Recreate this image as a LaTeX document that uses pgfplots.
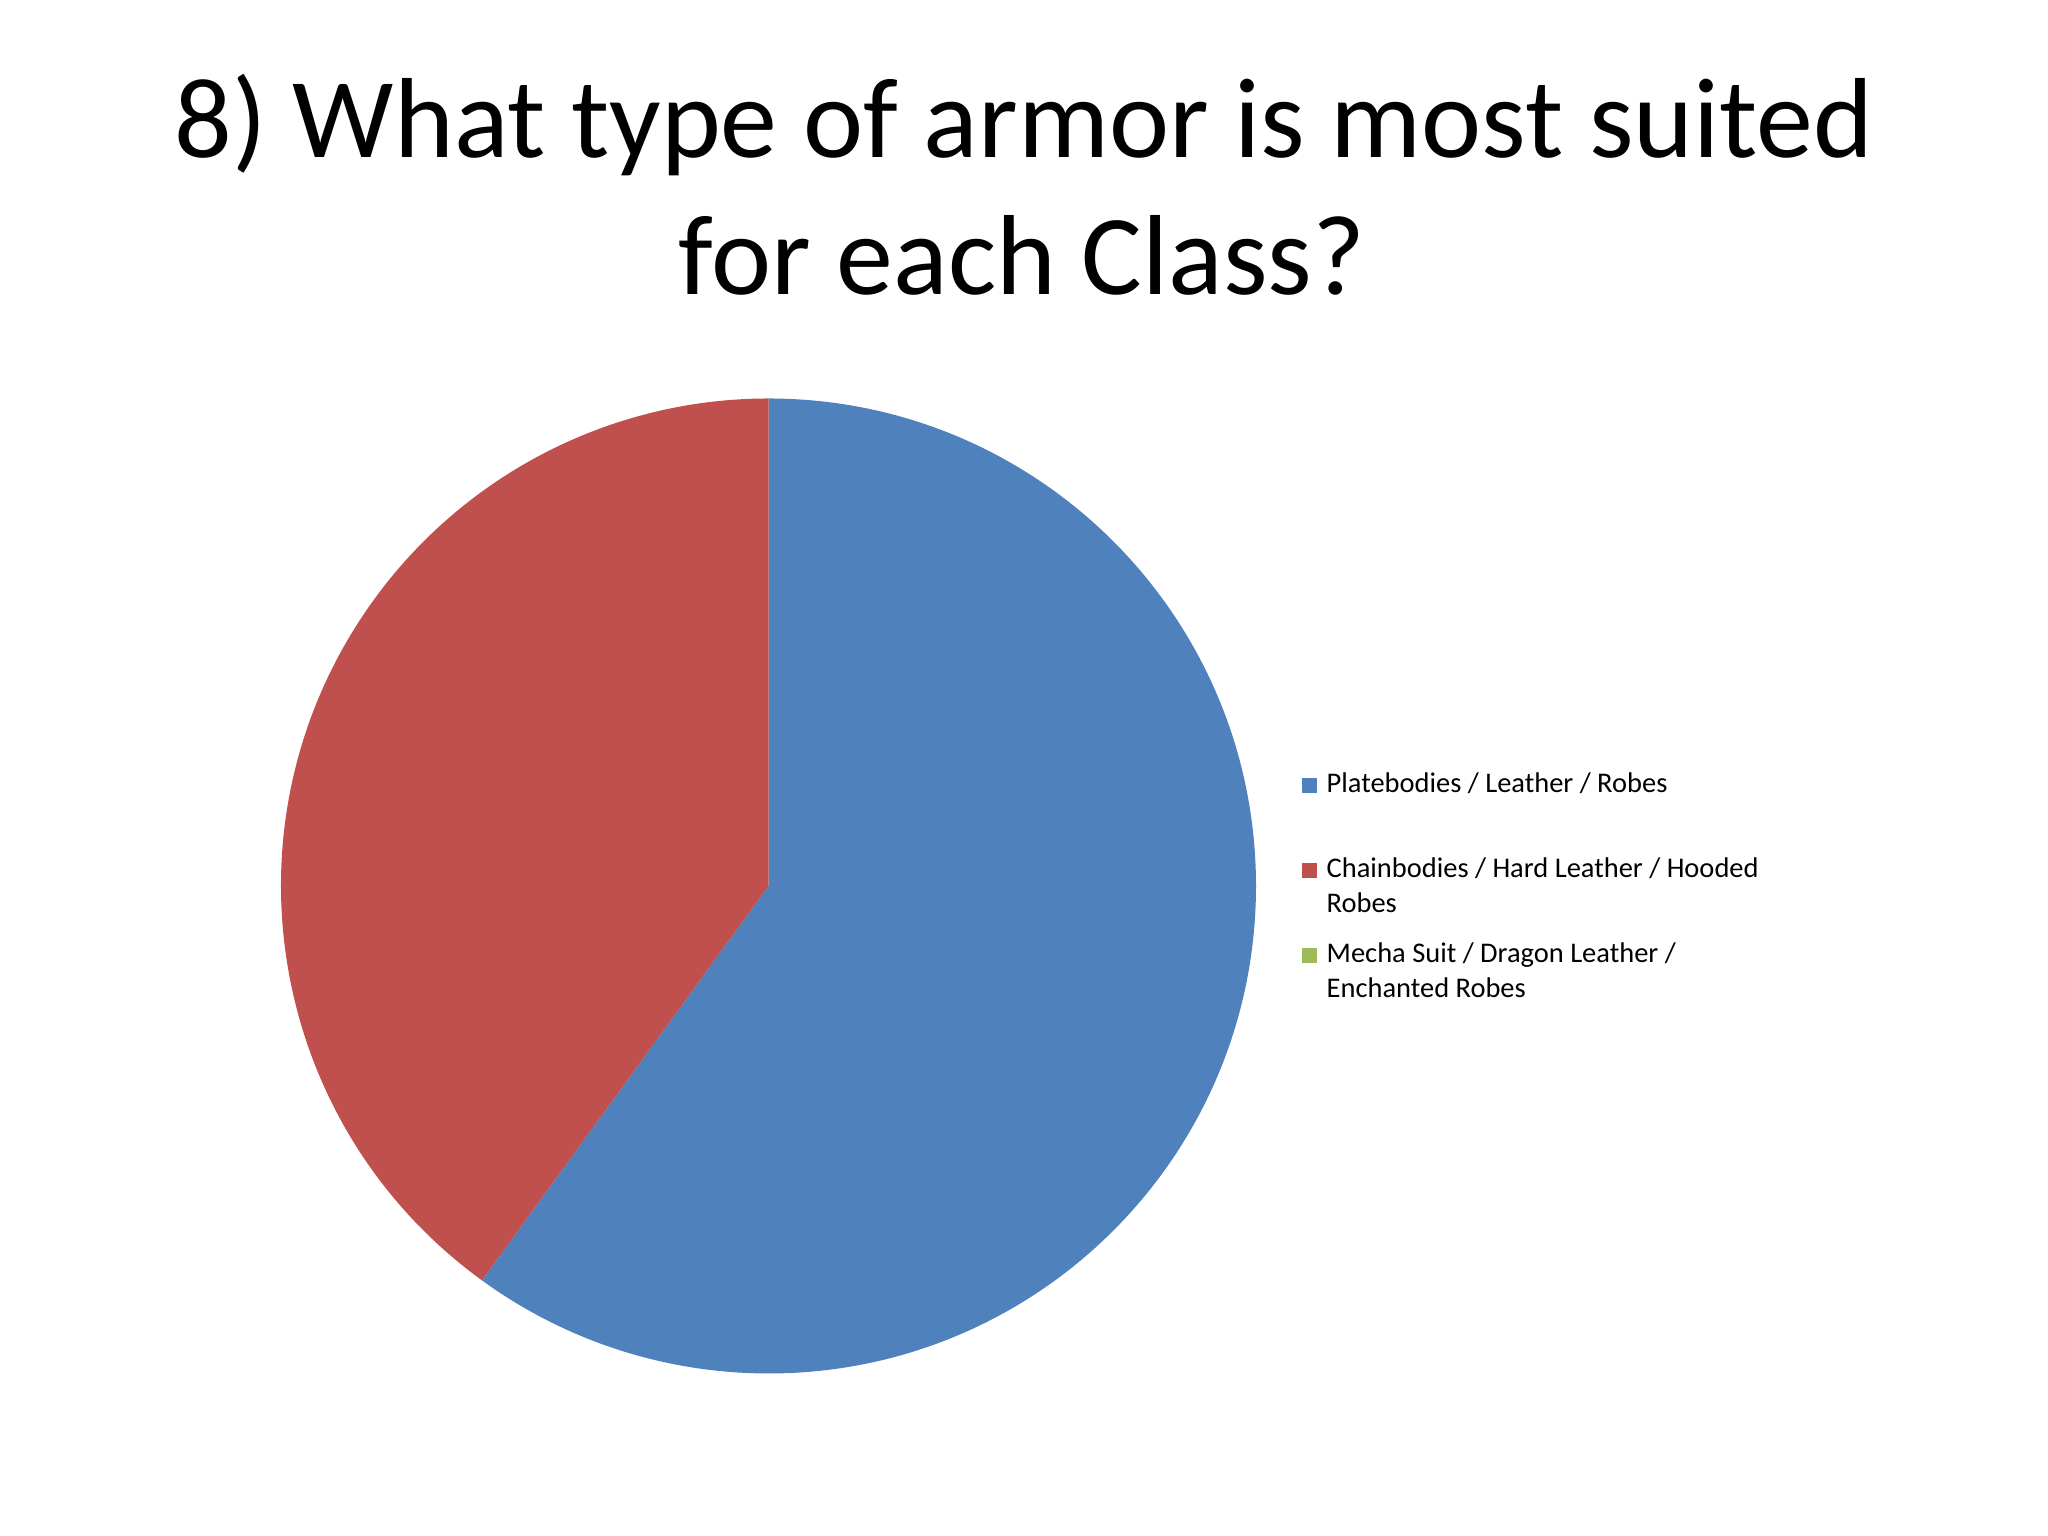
\documentclass[border=0pt]{standalone}
\usepackage{pgfplots}
\usepackage{pgfplotstable}
\usepackage{fontspec}
\setmainfont{Carlito}
\pgfplotsset{compat=1.18}

\definecolor{pieblue}{HTML}{4F81BD}
\definecolor{piered}{HTML}{C0504D}
\definecolor{piegreen}{HTML}{9BBB59}

% share of answers, percent
\pgfplotstableread{
value
60
40
0
}\piedata

\pgfplotstablegetelem{0}{value}\of\piedata \let\va\pgfplotsretval
\pgfplotstablegetelem{1}{value}\of\piedata \let\vb\pgfplotsretval
\pgfplotstablegetelem{2}{value}\of\piedata \let\vc\pgfplotsretval
% slices start at 12 o'clock and run clockwise
\pgfmathsetmacro\aA{90-3.6*\va}
\pgfmathsetmacro\aB{\aA-3.6*\vb}
\pgfmathsetmacro\aC{\aB-3.6*\vc}

\def\cx{7.685}
\def\cy{6.50}
\def\R{4.875cm}

\begin{document}
\begin{tikzpicture}
\useasboundingbox (0,0) rectangle (20.48,15.36);
\begin{axis}[
    x=1cm, y=1cm,
    xmin=0, xmax=20.48, ymin=0, ymax=15.36,
    hide axis,
    anchor=south west, at={(0,0)},
    clip=false,
]
    \fill[pieblue] (axis cs:\cx,\cy) -- ++(90:\R) arc[start angle=90, end angle=\aA, radius=\R] -- cycle;
    \fill[piered] (axis cs:\cx,\cy) -- ++(\aA:\R) arc[start angle=\aA, end angle=\aB, radius=\R] -- cycle;
    \fill[piegreen] (axis cs:\cx,\cy) -- ++(\aB:\R) arc[start angle=\aB, end angle=\aC, radius=\R] -- cycle;

    % legend
    \fill[pieblue] (axis cs:13.02,7.43) rectangle (axis cs:13.17,7.58);
    \fill[piered] (axis cs:13.02,6.58) rectangle (axis cs:13.17,6.73);
    \fill[piegreen] (axis cs:13.02,5.73) rectangle (axis cs:13.17,5.88);
    \begin{scope}[every node/.style={anchor=base west, inner sep=0pt, font=\fontsize{8.1}{10}\selectfont}]
    \node at (axis cs:13.26,7.43) {Platebodies / Leather / Robes};
    \node at (axis cs:13.26,6.58) {Chainbodies / Hard Leather / Hooded};
    \node at (axis cs:13.26,6.23) {Robes};
    \node at (axis cs:13.26,5.73) {Mecha Suit / Dragon Leather /};
    \node at (axis cs:13.26,5.38) {Enchanted Robes};
    \end{scope}

    % title
    \node[anchor=base, inner sep=0pt, font=\fontsize{32.4}{39}\selectfont] at (axis cs:10.24,13.78) {8) What type of armor is most suited};
    \node[anchor=base, inner sep=0pt, font=\fontsize{32.4}{39}\selectfont] at (axis cs:10.22,12.41) {for each Class?};
\end{axis}
\end{tikzpicture}
\end{document}
